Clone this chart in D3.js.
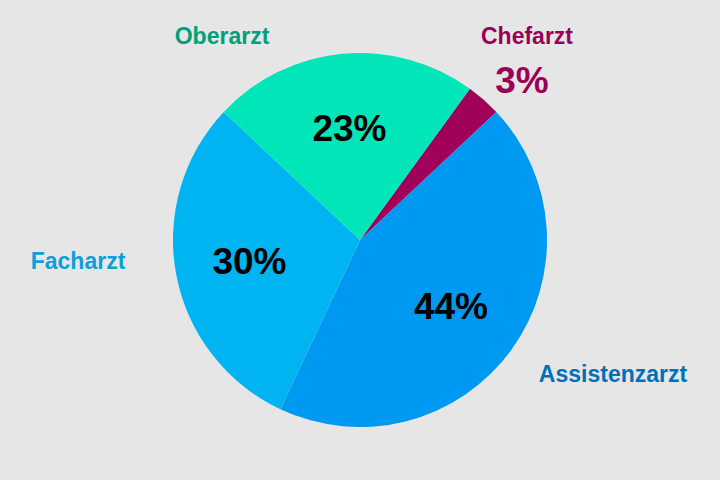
<!DOCTYPE html>
<html><head><meta charset="utf-8">
<script src="https://cdn.jsdelivr.net/npm/d3@7"></script>
<style>body{margin:0;background:#e6e6e6}svg{display:block}text{font-family:"Liberation Sans",Arial,sans-serif;font-weight:bold}</style>
</head><body>
<svg id="c" width="720" height="480"></svg>
<script>
const categories = ["Chefarzt","Assistenzarzt","Facharzt","Oberarzt"];
const values = [3,44,30,23];
const percentLabels = ["3%","44%","30%","23%"];
const sliceColors = ["#a0005a","#0099f2","#00b4f2","#00e6b8"];
const labelColors = ["#9b0057","#0070b8","#0aa0d8","#00a07a"];

const svg = d3.select("#c");
svg.append("rect").attr("width",720).attr("height",480).attr("fill","#e6e6e6");
const cx=360, cy=240, R=187;
const g = svg.append("g").attr("transform",`translate(${cx},${cy})`);
const start = 36*Math.PI/180;
const pie = d3.pie().sort(null).startAngle(start).endAngle(start+2*Math.PI);
const arcs = pie(values);
const arc = d3.arc().innerRadius(0).outerRadius(R);
g.selectAll("path").data(arcs).join("path").attr("d",arc).attr("fill",(d,i)=>sliceColors[i]);

// inner percentage labels (not for the tiny slice)
const inner = d3.arc().innerRadius(0).outerRadius(225);
arcs.forEach((d,i)=>{
  if(i===0) return;
  const [x,y]=inner.centroid(d);
  g.append("text").attr("x",x).attr("y",y).attr("text-anchor","middle").attr("dy","0.35em")
   .attr("font-size",37).attr("fill","#000").text(percentLabels[i]);
});
// outer category labels
const outerPos = [[167,-204],[253,134],[-282,21],[-138,-204]];
arcs.forEach((d,i)=>{
  g.append("text").attr("x",outerPos[i][0]).attr("y",outerPos[i][1]).attr("text-anchor","middle")
   .attr("dy","0.35em").attr("font-size",23).attr("fill",labelColors[i]).text(categories[i]);
});
g.append("text").attr("x",162).attr("y",-160).attr("text-anchor","middle").attr("dy","0.35em")
 .attr("font-size",37).attr("fill",labelColors[0]).text(percentLabels[0]);
</script>
</body></html>
